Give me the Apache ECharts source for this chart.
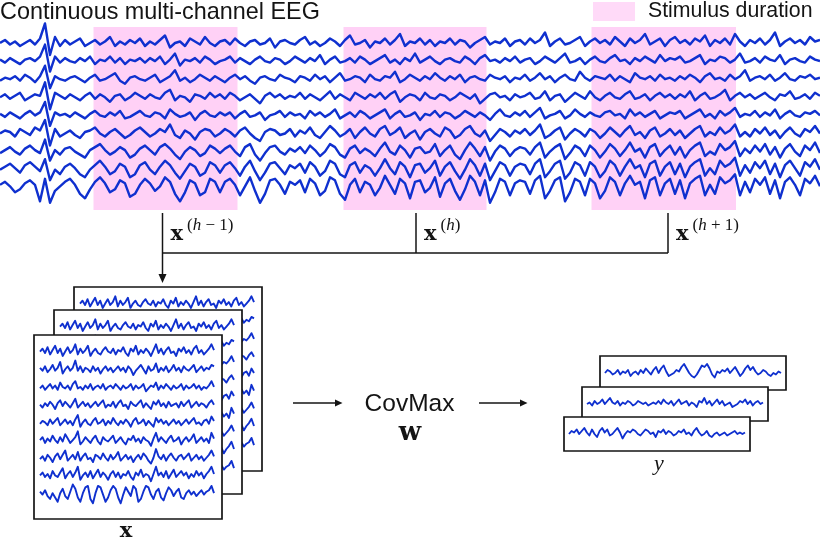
<!DOCTYPE html>
<html><head><meta charset="utf-8">
<script src="https://cdn.jsdelivr.net/npm/echarts@6/dist/echarts.min.js"></script>
<style>html,body{margin:0;padding:0;background:#fff}#c{width:820px;height:539px}</style>
</head><body><div id="c"></div>
<script>
// ---- Continuous multi-channel EEG (9 channels, amplitude per sample) ----
const eeg1 = [0,2,-1,1,-2,0,2,-1,3,13,-8,4,-2,2,-1, 1,3,-2,0,2,-1,1,4,-2,1,-1,2,0,3,-2, 1,-1,2,5,-3,0,1,-2,3,1,-1,4,0,-2,1, 2,-1,3,0,-2,1,2,-1,0,3,-3,1,2,0,-1, 2,4,-1,1,-2,0,3,1,-2,2,5,-1,0,2,-3, 1,0,3,-1,2,6,-2,1,0,3,-1,2,-2,1,0, 3,-1,2,1,-3,0,2,4,-1,1,0,3,-2,1,2, -1,3,0,2,7,-2,1,3,-1,0,2,4,-2,1,3, 0,2,-1,4,1,-2,3,0,2,6,-1,1,3,-2,2, 4,0,2,-1,3,1,5,-2,2,0,3,-1,6,1,-2, 2,0,3,-1,2,7,-2,1,3,0,2,-1,4,1,2];
const eeg2 = [1,-1,2,0,-2,1,2,0,3,11,-7,3,-1,2,0, -1,2,0,3,-2,1,0,3,-1,2,-2,1,0,2,-1, 2,0,3,-2,1,5,-3,1,0,2,-1,3,1,-2,0, 1,3,-1,2,0,-2,1,3,0,-1,2,1,-2,0,3, 1,-1,2,0,4,-2,1,3,-1,0,2,-1,3,1,-2, 0,2,4,-1,1,-2,2,0,5,-1,1,3,0,-2,1, 2,0,-1,3,1,-2,2,4,0,1,-1,2,0,3,-1, 1,2,-2,0,3,1,-1,2,5,-1,0,2,-2,1,3, 0,-1,2,4,0,1,-2,2,0,3,1,-1,4,0,2, 1,3,-1,0,2,4,-2,1,0,3,2,-1,1,5,-1, 0,2,-1,3,1,0,4,-2,1,2,0,-1,3,1,0];
const eeg3 = [-1,1,0,2,-1,3,1,-2,2,9,-6,2,0,-1,1, 2,0,-2,1,3,-1,0,2,4,-1,-3,1,2,0,-1, 1,3,-2,0,2,6,-1,1,-2,0,3,1,-1,2,0, -2,1,3,0,2,-1,-3,1,2,0,-1,3,1,0,-2, 2,1,-1,3,0,2,-2,1,4,-1,0,2,1,-2,3, 0,-1,2,1,5,-2,0,3,1,-1,2,0,4,1,-1, 2,0,3,-2,1,2,0,-1,3,1,0,2,-2,1,0, 3,-1,1,4,0,2,-2,1,3,0,-1,5,1,-1,2, 1,0,3,-1,2,0,-2,4,1,0,2,-1,3,0,1, -1,2,0,3,1,-2,2,4,0,1,-1,3,0,2,6, -1,1,2,0,3,-1,1,4,0,-1,2,1,3,0,1];
const eeg4 = [0,2,-1,1,3,-2,0,2,1,10,-8,3,1,-1,2, 0,-2,1,3,-1,2,0,-3,1,2,-2,0,3,1,-1, 2,0,-1,3,5,-2,1,0,-3,2,1,-1,3,0,2, -1,3,1,-2,0,2,-1,-4,1,3,0,2,-1,1,0, 3,-1,2,0,-2,1,4,-1,2,0,-2,3,1,-1,2, 0,3,-1,2,4,-3,0,2,1,-2,3,0,-1,2,1, -2,0,3,1,-1,2,-4,-1,2,3,0,1,-2,2,0, 1,3,-1,0,4,-2,1,2,-3,0,3,1,-1,4,0, -2,1,3,0,-1,2,4,-1,0,2,-2,1,3,0,2, -1,2,0,4,-2,1,3,-1,0,2,5,-2,1,3,0, 2,-1,1,3,0,-2,2,1,4,-1,0,2,-1,3,1];
const eeg5 = [1,-1,2,0,-2,1,3,0,2,9,-7,2,0,1,-1, 2,0,-2,1,3,0,-1,2,0,3,-2,-1,1,3,0, -1,2,1,-2,4,1,-1,0,2,-3,1,3,0,-1,2, 0,2,-2,1,3,-1,0,2,-3,0,1,3,-1,2,0, 1,-2,3,0,2,-1,1,4,-2,0,2,-1,3,1,-2, 0,2,4,-2,1,3,-1,0,2,-3,1,0,3,-1,2, 1,-2,0,3,1,-1,2,0,-3,1,4,0,-1,2,0, 3,-1,2,5,-2,0,1,3,-2,0,4,1,-1,2,0, -1,2,3,0,1,-2,4,0,2,-1,1,3,-2,0,2, 1,3,-2,0,2,4,-1,1,-2,3,0,2,5,-1,1, 0,3,-1,2,0,4,-2,1,3,0,-1,2,1,3,0];
const eeg6 = [0,2,1,-2,3,1,-1,4,2,9,-8,3,-2,0,2, -1,-3,1,2,4,0,-2,1,3,0,-3,-1,2,4,1, -2,0,3,1,6,-1,-3,2,0,-4,1,3,2,-2,0, 3,1,-2,2,4,0,-3,-5,1,3,2,-1,0,3,-2, 2,0,4,-1,-3,1,5,2,-2,0,3,-3,1,4,0, -2,3,5,-1,1,4,-3,0,2,-4,1,3,0,-2,4, 2,-3,-1,3,5,0,-2,2,-5,-1,3,1,-2,2,0, 3,-1,2,6,-3,-1,2,4,-4,0,3,1,-2,3,1, -3,0,4,1,-2,2,5,-1,1,-3,2,4,-2,0,3, -1,2,-3,0,3,5,-2,1,-1,4,0,2,6,-2,1, -2,3,0,4,-1,2,-3,1,4,0,-2,3,1,5,0];
const eeg7 = [-1,1,3,0,-2,2,4,1,-1,8,-6,1,-2,2,3, 0,-2,-4,1,3,5,1,-2,0,3,1,-4,-2,2,4, 1,-2,3,5,2,-2,-5,0,3,1,-3,-1,4,2,-1, 2,4,0,-3,3,5,-2,-6,-1,3,4,0,-2,2,0, 3,-1,4,1,-3,0,5,3,-2,-4,2,4,-1,2,0, -3,2,6,0,-2,4,1,-4,2,3,-1,0,5,-3,1, 4,-2,-5,1,6,2,-3,3,-6,0,4,2,-3,1,3, 2,-2,3,6,-4,0,3,5,-5,-1,4,2,-3,4,1, -4,0,5,2,-3,1,6,0,2,-4,3,5,-3,1,4, -2,3,-4,1,4,6,-3,0,-2,5,1,3,7,-3,2, -1,4,0,5,-2,3,-4,2,5,0,-3,4,1,6,-1];
const eeg8 = [0,2,4,1,-2,3,5,2,-1,7,-7,0,-3,2,4, 1,-3,-5,0,3,6,2,-3,-1,4,2,-5,-3,3,5, 0,-3,2,6,3,-2,-6,-1,4,2,-4,-2,5,3,-2, 3,5,1,-4,2,6,-1,-7,-2,4,5,1,-3,3,1, 4,-2,5,2,-4,-1,6,4,-3,-5,3,5,-2,3,1, -4,1,7,1,-3,5,2,-5,3,4,-2,1,6,-4,2, 5,-1,-6,0,7,3,-4,4,-7,-1,5,3,-4,2,4, 3,-3,4,7,-5,-1,4,6,-6,-2,5,3,-4,5,2, -5,-1,6,3,-4,2,7,1,3,-5,4,6,-4,2,5, -3,4,-5,2,5,7,-4,1,-3,6,2,4,8,-4,3, -2,5,1,6,-3,4,-5,3,6,1,-4,5,2,7,0];
const eeg9 = [2,4,1,-3,-1,3,5,2,-9,6,-10,-2,1,4,6, 2,-4,-7,-1,4,7,3,-3,-1,5,3,-6,-4,2,6, 3,-2,1,7,4,-4,-9,-3,5,3,-5,-3,6,4,-3, 4,6,2,-5,1,7,-2,-10,-4,5,6,2,-4,4,2, 5,-3,6,3,-5,-2,7,5,-4,-8,2,6,-3,4,2, -5,0,8,2,-4,6,3,-7,4,5,-3,0,7,-6,3, 6,-2,-8,-1,8,4,-5,5,-10,-3,6,4,-5,3,5, 4,-4,5,8,-7,-2,5,7,-9,-3,6,4,-5,6,3, -7,-2,7,4,-5,3,8,2,4,-7,5,7,-5,3,6, -4,5,-7,3,6,8,-5,2,-4,7,3,5,9,-5,4, -3,6,2,7,-4,5,-7,4,7,2,-5,6,3,8,1];
// stimulus windows, in samples
const stimulus = [[18.7, 47.5], [68.7, 97.3], [118.3, 147.2]];
const segmentLabels = ['h−1', 'h', 'h+1'];

// ---- one epoch x (9 channels) ----
const epoch1 = [1,3,0,4,-1,2,5,0,3,-2,1,4,0,2, 6,-1,3,0,2,5,-2,1,3,0,-1,2,4,1, 0,3,-1,2,1,4,0,-2,3,1,5,-1,2,0, 3,1,-2,2,6,0,3,-1,2,4,0,1,-2,3, 1,4,0,2,-1,3,5,0,2,-1,1,3,6,2];
const epoch2 = [2,0,3,-1,1,4,0,2,6,-2,1,3,0,2, 7,0,3,-1,2,1,-1,3,0,2,-2,1,3,0, 2,-1,1,3,0,2,-1,3,1,-3,0,2,4,1, -2,3,0,1,5,-1,2,0,3,-1,1,4,0,2, -1,3,1,0,2,4,-1,1,3,0,2,1,4,3];
const epoch3 = [0,2,-1,1,3,0,2,-1,4,1,0,2,-1,3, 5,0,1,-1,2,0,3,-1,1,2,0,3,-1,1, 2,0,3,1,-1,2,0,1,3,-1,2,0,1,3, -2,0,2,1,4,-1,2,0,3,1,-1,2,0,1, 3,-1,2,0,1,3,0,2,-1,1,0,2,5,1];
const epoch4 = [1,-1,2,0,3,1,-2,2,4,0,3,1,-1,2, 5,-1,1,3,0,2,-1,1,3,0,2,4,-1,1, 0,3,-1,2,4,0,1,-2,3,1,0,2,4,-1, 2,0,-2,3,1,4,0,2,-1,3,0,1,2,-1, 3,0,2,4,-1,1,3,0,2,1,-1,2,4,1];
const epoch5 = [0,2,1,-1,3,0,2,4,-1,1,3,0,2,-1, 3,6,-2,1,3,0,-1,2,4,0,1,3,-1,2, 0,4,1,-1,2,0,3,1,-2,2,4,0,1,3, -1,2,0,-2,4,1,3,0,2,-1,1,3,0,2, -1,1,3,0,2,4,0,1,-1,2,3,0,5,2];
const epoch6 = [1,3,-1,2,0,4,1,-1,3,0,5,2,-1,1, 3,7,-2,0,3,1,-1,2,4,0,-2,3,1,0, 2,4,-1,1,3,0,-2,2,1,4,0,2,-1,3, 1,0,-3,2,6,0,3,1,-1,2,4,0,1,3, -2,1,3,0,2,5,-1,1,3,0,2,-1,6,2];
const epoch7 = [0,2,-1,3,1,-2,2,4,0,3,6,-1,1,3, 0,5,-1,2,4,0,1,-2,3,2,0,4,1,-1, 3,0,2,5,-1,1,3,0,2,-2,1,3,0,4, 2,-1,-3,1,7,2,0,3,-1,2,4,1,-1,2, 3,0,2,4,-1,1,3,0,2,-1,1,3,6,2];
const epoch8 = [1,3,0,2,-1,4,1,0,3,6,-1,2,4,0, 3,7,-2,1,3,0,4,-1,2,5,0,3,1,-2, 2,4,0,3,-1,2,1,4,0,-2,3,1,5,0, 2,1,-3,2,7,1,3,0,4,-1,2,5,0,2, 4,1,3,-1,2,0,4,1,3,-1,2,4,7,2];
const epoch9 = [2,0,3,-1,-3,1,-2,-5,1,4,-1,-3,2,7, 4,-2,-5,1,5,6,-3,-6,1,6,5,0,-5,-2, 3,6,4,-2,-6,0,5,2,-1,6,4,-5,-3,2, 6,5,0,-3,2,4,-2,-4,1,5,3,-1,2,4, -2,-3,1,3,0,2,-1,1,3,0,2,3,6,1];

// ---- CovMax outputs y (one per epoch) ----
const yOut1 = [0,2,1,-1,0,2,-1,1,0,2,-2,0,1,-1, 2,0,3,1,-1,2,4,0,3,5,1,-2,-1,0, 2,1,4,6,3,0,-2,-3,-1,2,5,4,6,3, -1,-3,1,0,2,1,3,0,2,4,1,-2,0,3, 5,2,4,1,-1,0,2,1,-1,-2,0,-1,1,0];
const yOut2 = [0,1,-1,2,0,1,3,0,2,4,1,0,2,-1, 1,0,2,1,-1,0,2,1,0,1,-1,0,1,0, 2,0,3,1,0,2,-1,1,3,0,1,2,-1,1, 0,-2,2,1,4,0,2,-1,1,3,0,2,-1,0, 1,-2,-1,0,2,1,3,0,2,-1,1,2,0,1];
const yOut3 = [0,2,1,3,0,2,4,1,-1,3,0,-2,2,4, 1,3,-1,0,2,4,1,-3,0,2,1,3,2,0, -1,1,3,2,0,1,-2,2,1,3,0,2,1,-1, 0,2,1,3,0,1,-1,2,4,1,-1,0,2,-1, -2,0,1,-1,0,1,-1,0,1,2,0,1,0,1];

const eegChannels = [eeg1, eeg2, eeg3, eeg4, eeg5, eeg6, eeg7, eeg8, eeg9];
const epochChannels = [epoch1, epoch2, epoch3, epoch4, epoch5, epoch6, epoch7, epoch8, epoch9];
const outputs = [yOut1, yOut2, yOut3];

const BLUE = '#0f30cf', PINK = '#ffd1f6', INK = '#141414';
const grids = [], xAxes = [], yAxes = [], series = [];
function addGrid(g, xmin, xmax, ymax) {
  const gi = grids.length;
  grids.push(g);
  xAxes.push({type: 'value', gridIndex: gi, min: xmin, max: xmax, show: false});
  yAxes.push({type: 'value', gridIndex: gi, min: 0, max: ymax, inverse: true, show: false});
  return gi;
}
// gain: display scale (pixels per amplitude unit)
function trace(gi, arr, center, gain, width, z) {
  return {type: 'line', xAxisIndex: gi, yAxisIndex: gi, data: arr.map((v, j) => [j, center - gain * v]),
    showSymbol: false, symbol: 'none', clip: false, silent: true, z: z,
    lineStyle: {color: BLUE, width: width, join: 'round'}};
}

// top continuous EEG
const N = eeg1.length;
const g0 = addGrid({left: 0, top: 27, width: 820, height: 183}, 0, N - 1, 183);
series.push({type: 'scatter', name: 'Stimulus duration', xAxisIndex: g0, yAxisIndex: g0, data: [], z: 1,
  itemStyle: {color: PINK},
  markArea: {silent: true, itemStyle: {color: PINK, opacity: 1},
    data: stimulus.map(s => [{xAxis: s[0]}, {xAxis: s[1]}])}});
eegChannels.forEach((ch, i) => series.push(trace(g0, ch, 16 + 18.1 * i, 1.5, 2.4, 2)));

// stacked epoch boxes x
const boxPos = [{left: 74, top: 287}, {left: 54, top: 310}, {left: 34, top: 335}];
const M = epoch1.length;
boxPos.forEach((p, b) => {
  const k = 174 / (M - 1);
  const gi = addGrid({left: p.left, top: p.top, width: 188, height: 184, show: true, backgroundColor: '#fff',
    borderColor: INK, borderWidth: 1.7, z: 1 + 2 * b}, -6 / k, M - 1 + 8 / k, 184);
  epochChannels.forEach((ch, i) => series.push(trace(gi, ch, 18 + 17.7 * i, 1.45, 1.9, 2 + 2 * b)));
});

// stacked outputs y
const outPos = [{left: 600, top: 356}, {left: 582, top: 387}, {left: 564, top: 417}];
outPos.forEach((p, b) => {
  const L = outputs[b].length;
  const k = 176 / (L - 1);
  const gi = addGrid({left: p.left, top: p.top, width: 186, height: 34, show: true, backgroundColor: '#fff',
    borderColor: INK, borderWidth: 1.7, z: 1 + 2 * b}, -5 / k, L - 1 + 5 / k, 34);
  series.push(trace(gi, outputs[b], 17, 1.5, 1.9, 2 + 2 * b));
});

// diagram annotations
const graphic = [];
const bracketX = [162.5, 416, 668];
const line = (x1, y1, x2, y2) => ({type: 'line', shape: {x1, y1, x2, y2}, style: {stroke: INK, lineWidth: 1.5}, silent: true});
const head = pts => ({type: 'polygon', shape: {points: pts}, style: {fill: INK}, silent: true});
bracketX.forEach((bx, i) => {
  graphic.push(line(bx, 213, bx, i === 0 ? 276 : 253));
  graphic.push({type: 'text', silent: true, style: {text: 'x', x: bx + 8, y: 235, verticalAlign: 'middle',
    fontFamily: 'DejaVu Serif', fontWeight: 'bold', fontSize: 21, fill: INK}});
  const lab = segmentLabels[i];
  const parts = lab.length > 1 ? '{i|h}{n| ' + lab[1] + ' ' + lab.slice(2) + '}' : '{i|h}';
  graphic.push({type: 'text', silent: true, style: {text: '{n|(}' + parts + '{n|)}', x: bx + 24.5, y: 226,
    verticalAlign: 'middle', rich: {
      n: {fontFamily: 'Liberation Serif', fontSize: 17, fill: INK},
      i: {fontFamily: 'Liberation Serif', fontStyle: 'italic', fontSize: 17, fill: INK}}}});
});
graphic.push(line(bracketX[0], 253, bracketX[2], 253));
graphic.push(head([[158.5, 274], [166.5, 274], [162.5, 283]]));
graphic.push(line(293, 403, 337, 403));
graphic.push(head([[335, 399.5], [335, 406.5], [342.5, 403]]));
graphic.push(line(479, 403, 522, 403));
graphic.push(head([[520, 399.5], [520, 406.5], [527.5, 403]]));
graphic.push({type: 'text', silent: true, style: {text: 'CovMax', x: 409.5, y: 404.5, align: 'center', verticalAlign: 'middle',
  fontFamily: 'Liberation Sans', fontSize: 24.5, fill: INK}});
graphic.push({type: 'text', silent: true, style: {text: 'w', x: 410, y: 433, align: 'center', verticalAlign: 'middle',
  fontFamily: 'DejaVu Serif', fontWeight: 'bold', fontSize: 26, fill: INK}});
graphic.push({type: 'text', silent: true, style: {text: 'x', x: 126, y: 532, align: 'center', verticalAlign: 'middle',
  fontFamily: 'DejaVu Serif', fontWeight: 'bold', fontSize: 21, fill: INK}});
graphic.push({type: 'text', silent: true, style: {text: 'y', x: 659, y: 464.5, align: 'center', verticalAlign: 'middle',
  fontFamily: 'Liberation Serif', fontStyle: 'italic', fontSize: 22, fill: INK}});

const chart = echarts.init(document.getElementById('c'), null, {renderer: 'canvas'});
chart.setOption({
  animation: false,
  backgroundColor: '#fff',
  title: {text: 'Continuous multi-channel EEG', left: 0, top: 1, padding: 0,
    textStyle: {fontSize: 23.4, fontWeight: 'normal', fontFamily: 'Liberation Sans', color: INK}},
  legend: {data: [{name: 'Stimulus duration', icon: 'rect'}], left: 593, top: 1, padding: 0,
    itemWidth: 42, itemHeight: 19, selectedMode: false,
    textStyle: {fontSize: 21.3, fontFamily: 'Liberation Sans', color: INK, padding: [0, 0, 0, 8]}},
  grid: grids, xAxis: xAxes, yAxis: yAxes, series: series, graphic: graphic
});
</script></body></html>
